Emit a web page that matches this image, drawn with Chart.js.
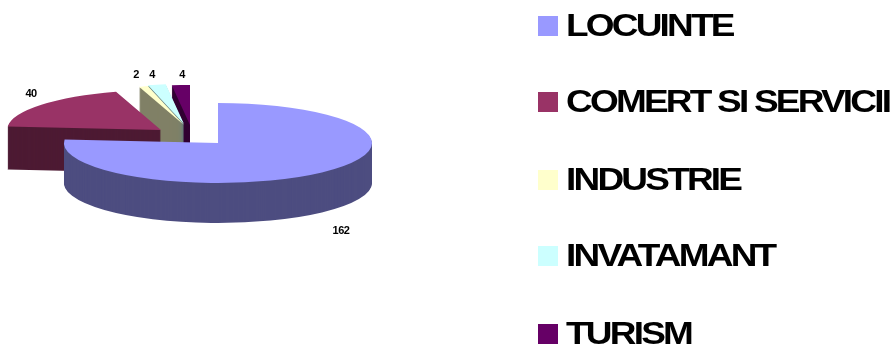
<!DOCTYPE html>
<html>
<head>
<meta charset="utf-8">
<style>
  html, body { margin: 0; padding: 0; background: #fff; overflow: hidden; }
  canvas { display: block; }
</style>
<script src="https://cdn.jsdelivr.net/npm/chart.js@4/dist/chart.umd.min.js"></script>
</head>
<body>
<canvas id="grafic" width="895" height="345"></canvas>
<script>
// date
const categorii = ['LOCUINTE', 'COMERT SI SERVICII', 'INDUSTRIE', 'INVATAMANT', 'TURISM'];
const valori = [162, 40, 2, 4, 4];
const culori = ['#9999ff', '#993366', '#ffffcc', '#ccffff', '#660066'];
const culoriLaterale = ['#4d4d80', '#4d1a33', '#808066', '#668080', '#330033'];

// turtirea 3D si unde ajunge centrul fiecarei felii
const turtire = 40 / 154;
const adancimi = [40, 43, 40, 40, 40];
const centre = [[218, 143], [161, 130], [184, 125], [184, 124], [190, 125]];

const etichete3d = [[341, 230], [31, 93], [136, 74], [152, 74], [182, 74]];
const legendaX = 538;
const legendaY = [16, 92, 170, 246, 324];
const latireText = 1.155;

function deseneazaFelie(ctx, arc, culoare, x, y) {
    const felie = Object.create(arc);
    felie.options = Object.create(arc.options, { backgroundColor: { value: culoare } });
    ctx.save();
    ctx.translate(x, y);
    ctx.scale(1, turtire);
    ctx.translate(-arc.x, -arc.y);
    Chart.ArcElement.prototype.draw.call(felie, ctx);
    ctx.restore();
}

const pie3d = {
    id: 'pie3d',
    beforeDatasetsDraw(chart) {
        const ctx = chart.ctx;
        const arce = chart.getDatasetMeta(0).data;
        // din spate spre fata, LOCUINTE ultima
        for (let i = arce.length - 1; i >= 0; i--) {
            const [x, y] = centre[i];
            for (let d = adancimi[i]; d > 0; d--) {
                deseneazaFelie(ctx, arce[i], culoriLaterale[i], x, y + d);
            }
            deseneazaFelie(ctx, arce[i], culori[i], x, y);
        }
        return false;
    },
    afterDraw(chart) {
        const ctx = chart.ctx;
        ctx.save();
        ctx.fillStyle = '#000';
        ctx.textBaseline = 'alphabetic';

        ctx.font = 'bold 11px "Liberation Sans"';
        ctx.letterSpacing = '-0.5px';
        ctx.textAlign = 'center';
        valori.forEach((v, i) => {
            ctx.fillText(String(v), etichete3d[i][0], etichete3d[i][1] + 4);
        });

        ctx.font = 'bold 32px "Liberation Sans"';
        ctx.letterSpacing = '-2.4px';
        ctx.textAlign = 'left';
        categorii.forEach((c, i) => {
            ctx.fillStyle = culori[i];
            ctx.fillRect(legendaX, legendaY[i], 20, 20);
            ctx.fillStyle = '#000';
            ctx.save();
            ctx.translate(legendaX + 28, legendaY[i] + 20);
            ctx.scale(latireText, 1);
            ctx.fillText(c, 0, 0);
            ctx.restore();
        });
        ctx.restore();
    }
};

new Chart(document.getElementById('grafic'), {
    type: 'pie',
    data: {
        labels: categorii,
        datasets: [{
            data: valori,
            backgroundColor: culori,
            borderWidth: 0
        }]
    },
    options: {
        responsive: false,
        animation: false,
        layout: { padding: { left: 65, right: 522, top: 19, bottom: 18 } },
        plugins: {
            legend: { display: false },
            tooltip: { enabled: false }
        }
    },
    plugins: [pie3d]
});
</script>
</body>
</html>
